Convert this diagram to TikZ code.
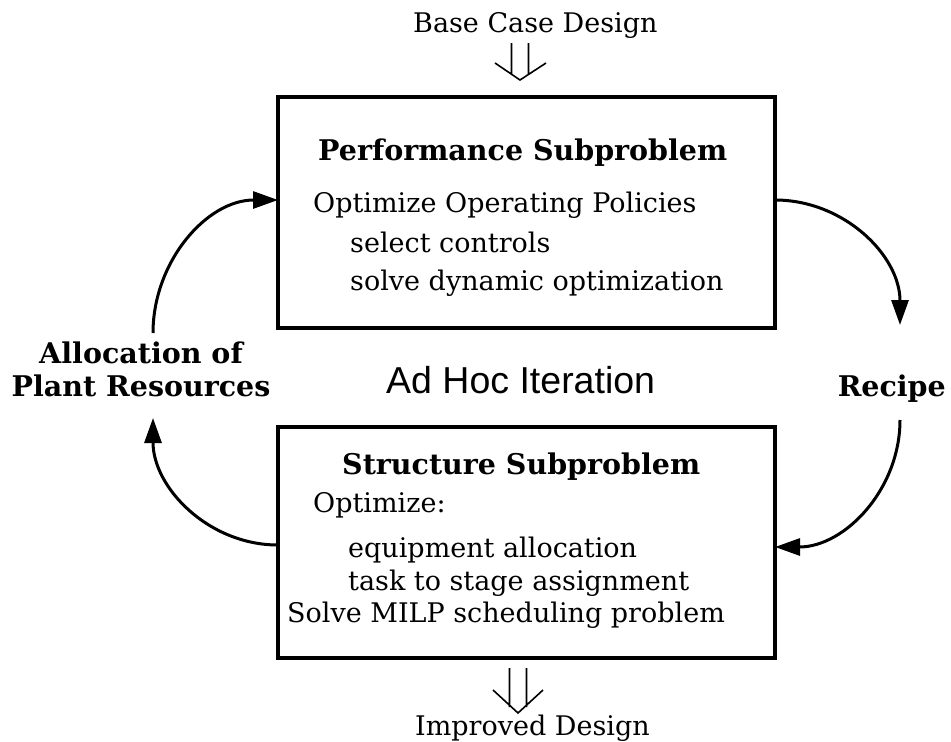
\documentclass[tikz,border=0pt]{standalone}
\usepackage{fontspec}
\setmainfont{DejaVu Serif}
\newfontfamily\adhocfont{Liberation Sans}
\usetikzlibrary{arrows.meta,positioning}

\begin{document}
\begin{tikzpicture}[x=1pt,y=-1pt,
  sub/.style={draw,line width=4pt,outer sep=0pt,inner sep=0pt,minimum width=497pt,minimum height=231pt},
  txt/.style={anchor=base west,inner sep=0pt,font=\fontsize{27}{32}\selectfont},
  hd/.style={txt,font=\fontsize{28.5}{32}\selectfont\bfseries},
  ar/.style={-{Triangle[length=25pt,width=17pt]},line width=3pt},
  op/.style={line width=1.6pt}]
\useasboundingbox (0,0) rectangle (951,742);
\node[sub] (perf) at (526.5,212.5) {};
\node[sub,below=99pt of perf] (struct) {};
\node[txt] (base) at (413,32) {Base Case Design};
\node[hd] (perfhd) at (318,160) {Performance Subproblem};
\node[txt] (opt) at (313,212) {Optimize Operating Policies};
\node[txt] (sel) at (350,252) {select controls};
\node[txt] (dyn) at (350,290) {solve dynamic optimization};
\node[hd,anchor=base] (alloc) at (141,363) {Allocation of};
\node[hd,anchor=base] (plant) at (141,396) {Plant Resources};
\node[anchor=base west,inner sep=0pt,font=\adhocfont\fontsize{37.5}{40}\selectfont] (adhoc) at (386,393) {Ad Hoc Iteration};
\node[hd,anchor=base east] (recipe) at (946,396) {Recipe};
\node[hd] (structhd) at (342,474) {Structure Subproblem};
\node[txt] (optz) at (313,512) {Optimize:};
\node[txt] (equip) at (348,557) {equipment allocation};
\node[txt] (task) at (348,590) {task to stage assignment};
\node[txt] (milp) at (287,622) {Solve MILP scheduling problem};
\node[txt] (impr) at (415,735) {Improved Design};
\coordinate (lin) at (153,333);
\coordinate (lout) at (153,418);
\coordinate (rin) at (900,325);
\coordinate (rout) at (900,420);
\coordinate (intip) at (520,80);
\coordinate (outtip) at (518,713);
\draw[ar] (lin) to[out=90,in=180] ([yshift=12.5pt]perf.west);
\draw[ar] ([yshift=-2.5pt]struct.west) to[out=180,in=-90] (lout);
\draw[ar] ([yshift=12.5pt]perf.east) to[out=0,in=90] (rin);
\draw[ar] (rout) to[out=-90,in=0] ([yshift=-4.5pt]struct.east);
\draw[op] ([shift={(-8.5,-37)}]intip) -- ([shift={(-8.5,-6)}]intip)
  ([shift={(8.5,-37)}]intip) -- ([shift={(8.5,-6)}]intip)
  ([shift={(-25,-17)}]intip) -- (intip) -- ([shift={(26,-17)}]intip);
\draw[op] ([shift={(-8.5,-45)}]outtip) -- ([shift={(-8.5,-6)}]outtip)
  ([shift={(8.5,-45)}]outtip) -- ([shift={(8.5,-6)}]outtip)
  ([shift={(-25,-23)}]outtip) -- (outtip) -- ([shift={(25,-23)}]outtip);
\end{tikzpicture}
\end{document}
